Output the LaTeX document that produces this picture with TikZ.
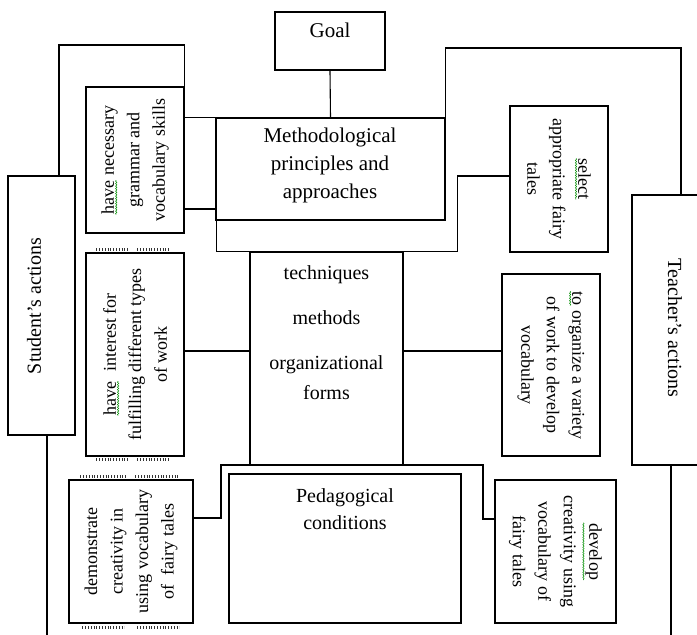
\documentclass[tikz,border=0pt]{standalone}
\usepackage{fontspec}
\setmainfont{Liberation Serif}
\usetikzlibrary{decorations.pathmorphing}
\newcommand{\spellmark}[1]{\tikz[baseline=(sw.base)]{\node[inner sep=0pt] (sw) {#1};
  \draw[green!55!black, line width=0.5pt, decorate, decoration={snake, amplitude=0.7pt, segment length=2.5pt}]
    ([yshift=-2pt]sw.south west) -- ([yshift=-2pt]sw.south east);}}
\begin{document}
\begin{tikzpicture}[x=1pt,y=-1pt]
 \tikzset{box/.style={draw, line width=1.1pt, inner sep=0pt},
   vtext/.style={align=center, inner sep=0pt, font=\fontsize{18}{25.5}\selectfont},
   htext/.style={align=center, inner sep=0pt, font=\fontsize{21}{28}\selectfont},
   link/.style={line width=1.1pt},
   hatch/.style={line width=2.2pt, black!80, dash pattern=on 0.6pt off 2.2pt}}
  \useasboundingbox (0,0) rectangle (697,635);
  % boxes
  \node[box, minimum width=110, minimum height=58] (goal) at (330,41) {};
  \node[box, minimum width=229, minimum height=102] (meth) at (330.5,169) {};
  \node[box, minimum width=153, minimum height=213] (tech) at (326.5,358.5) {};
  \node[box, minimum width=232, minimum height=149] (peda) at (345,548.5) {};
  \node[box, minimum width=67, minimum height=259] (student) at (41.5,305.5) {};
  \node[box, minimum width=88, minimum height=270] (teacher) at (676,330) {};
  \node[box, minimum width=98, minimum height=146] (necess) at (135,160) {};
  \node[box, minimum width=98, minimum height=203] (interest) at (135,354.5) {};
  \node[box, minimum width=124, minimum height=143] (demo) at (131,551.5) {};
  \node[box, minimum width=98, minimum height=146] (select) at (559,179) {};
  \node[box, minimum width=98, minimum height=182] (organize) at (551,365) {};
  \node[box, minimum width=121, minimum height=143] (develop) at (555.5,551.5) {};
  % texts
  \node[htext] (goalt) at (330,30) {Goal};
  \node[htext] (metht) at (330,165) {Methodological\\ principles and\\ approaches};
  \node[htext, font=\fontsize{20}{30}\selectfont] (techt) at (326.5,333) {techniques\\[15pt] methods\\[15pt] organizational\\ forms};
  \node[htext, font=\fontsize{20}{27}\selectfont] (pedat) at (345,509) {Pedagogical\\ conditions};
  \node[htext, font=\fontsize{20}{24}\selectfont, rotate=90] (studentt) at (34,306) {Student’s actions};
  \node[htext, font=\fontsize{20}{24}\selectfont, rotate=-90] (teachert) at (675,328) {Teacher’s actions};
  \node[vtext, rotate=90] (necesst) at (necess) {\spellmark{have} necessary\\ grammar and\\ vocabulary skills};
  \node[vtext, rotate=90] (interestt) at (interest) {\spellmark{have}\ \ interest for\\ fulfilling different types\\ of work};
  \node[vtext, rotate=90] (demot) at (demo) {demonstrate\\ creativity in\\ using vocabulary\\ of\ \ fairy tales};
  \node[vtext, rotate=-90] (selectt) at (select) {\spellmark{select}\\ appropriate fairy\\ tales};
  \node[vtext, rotate=-90] (organizet) at (organize) {\spellmark{to} organize a variety\\ of work to develop\\ vocabulary};
  \node[vtext, rotate=-90] (developt) at (develop) {\spellmark{develop}\\ creativity using\\ vocabulary of\\ fairy tales};
  % bends
  \coordinate (sbend) at (59,45);
  \coordinate (tbend) at (681,48);
  \coordinate (midrow) at (0,351);
  \coordinate (lowl) at (221,465);
  \coordinate (lowr) at (483,465);
  \coordinate (send) at (47,635);
  \coordinate (tend) at (671,635);
  % connectors
  \draw[link] (goal.south) -- (meth.north);
  \draw[link] (sbend |- student.north) -- (sbend) -| (necess.east |- meth.north) -- (meth.north west);
  \draw[link] ([yshift=-49]necess.east) -| ([xshift=-33]tech.north west) -- (tech.north west);
  \draw[link] (interest.east |- midrow) -- (tech.west |- midrow);
  \draw[link] (tech.east |- midrow) -- (organize.west |- midrow);
  \draw[link] ([yshift=3]select.west) -| ([xshift=54]tech.north east) -- (tech.north east);
  \draw[link] (meth.north east) |- (tbend) -- (tbend |- teacher.north);
  \draw[link] ([yshift=33.5]demo.east) -| (lowl) -- (lowr) |- ([yshift=32.5]develop.west);
  \draw[link] (send |- student.south) -- (send);
  \draw[link] (tend |- teacher.south) -- (tend);
  % anchor marks
  \draw[hatch] ([xshift=11,yshift=3]interest.north west) -- ++(33,0);
  \draw[hatch] ([xshift=52,yshift=3]interest.north west) -- ++(32,0);
  \draw[hatch] ([xshift=11,yshift=-3]interest.south west) -- ++(33,0);
  \draw[hatch] ([xshift=52,yshift=-3]interest.south west) -- ++(32,0);
  \draw[hatch] ([xshift=12,yshift=3]demo.north west) -- ++(45,0);
  \draw[hatch] ([xshift=67,yshift=3]demo.north west) -- ++(44,0);
  \draw[hatch] ([xshift=14,yshift=-4]demo.south west) -- ++(42,0);
  \draw[hatch] ([xshift=69,yshift=-4]demo.south west) -- ++(42,0);
\end{tikzpicture}
\end{document}
